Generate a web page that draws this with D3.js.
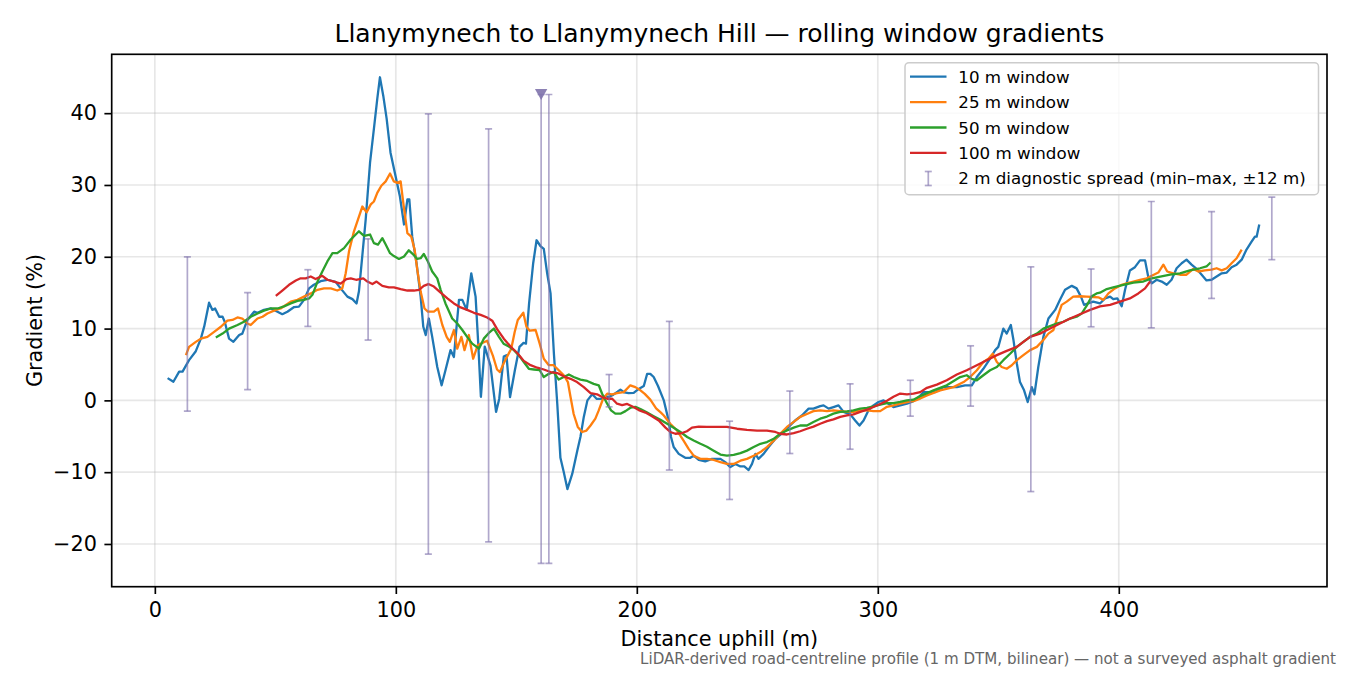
<!DOCTYPE html>
<html><head><meta charset="utf-8">
<script src="https://cdn.jsdelivr.net/npm/d3@7"></script>
<style>body{margin:0;background:#fff}svg{display:block;font-family:"DejaVu Sans",sans-serif}</style>
</head><body><svg id="chart" width="1350" height="675"></svg>
<script>
// ---------- data ----------
const titleText = "Llanymynech to Llanymynech Hill \u2014 rolling window gradients";
const xLabel = "Distance uphill (m)";
const yLabel = "Gradient (%)";
const footnote = "LiDAR-derived road-centreline profile (1 m DTM, bilinear) \u2014 not a surveyed asphalt gradient";
const xTicks = [0, 100, 200, 300, 400];
const yTicks = [-20, -10, 0, 10, 20, 30, 40];
const seriesLabels = ["10 m window", "25 m window", "50 m window", "100 m window"];
const spreadLabel = "2 m diagnostic spread (min\u2013max, \u00b112 m)";

const w10 = [[5.3,3.1],[7.7,2.6],[10.1,4.0],[11.5,4.0],[14.2,5.6],[17.0,6.85],[19.1,8.6],[20.5,10.3],[22.5,13.6],[23.9,12.6],[25.0,12.8],[26.7,11.65],[28.1,11.65],[29.0,10.95],[30.8,8.6],[32.6,8.15],[35.0,9.1],[36.3,9.3],[38.4,11.2],[41.2,12.35],[42.6,12.2],[45.3,12.6],[48.1,12.8],[50.9,12.35],[52.9,12.0],[55.0,12.35],[57.8,13.0],[59.8,13.05],[61.9,14.0],[64.0,15.6],[66.0,16.1],[68.8,16.6],[71.6,16.8],[75.0,16.5],[77.1,15.6],[79.9,14.45],[82.0,14.1],[83.7,13.5],[84.7,15.2],[86.0,19.8],[87.5,25.2],[89.3,33.1],[90.9,37.8],[92.3,42.0],[93.4,45.0],[94.8,42.4],[96.2,39.2],[97.8,34.5],[99.9,31.2],[101.7,28.4],[103.4,24.5],[104.8,28.0],[105.6,28.0],[106.8,22.8],[108.6,19.1],[110.3,14.45],[111.4,10.25],[112.4,9.1],[113.7,11.4],[115.1,8.85],[117.2,4.65],[119.0,2.1],[120.6,4.2],[122.7,7.0],[124.1,6.05],[126.2,14.0],[127.6,14.0],[129.4,12.6],[131.3,17.7],[133.1,14.45],[134.2,7.9],[135.3,0.5],[136.9,7.5],[139.3,4.8],[141.6,-1.6],[142.9,0.2],[144.8,6.1],[145.9,6.3],[147.4,0.46],[149.4,4.2],[151.3,7.45],[153.0,8.0],[154.0,7.9],[155.3,13.5],[157.0,19.1],[158.4,22.3],[160.0,21.5],[161.4,21.1],[162.8,17.7],[164.2,14.9],[165.6,6.5],[167.0,-0.5],[168.3,-8.0],[169.7,-10.0],[171.2,-12.35],[173.2,-10.25],[175.3,-7.0],[176.6,-5.1],[178.0,-2.3],[179.5,0.0],[181.5,0.85],[183.4,0.2],[185.5,0.2],[187.0,0.6],[188.4,0.46],[190.3,0.8],[192.0,1.2],[193.2,1.5],[194.8,1.1],[196.6,1.0],[198.7,1.05],[200.8,1.6],[202.9,2.0],[204.3,3.7],[205.6,3.7],[207.0,3.25],[208.8,2.0],[211.2,0.0],[213.2,-2.8],[214.2,-5.1],[215.3,-6.5],[217.4,-7.45],[220.1,-8.0],[222.2,-8.0],[223.6,-7.7],[225.7,-8.3],[228.4,-8.5],[231.2,-8.15],[234.7,-8.15],[236.7,-8.6],[238.8,-9.3],[240.9,-8.85],[243.0,-9.2],[244.6,-9.2],[246.4,-9.7],[247.8,-8.85],[249.2,-7.45],[250.5,-8.15],[252.6,-7.45],[254.7,-6.5],[257.5,-5.35],[260.2,-4.6],[263.0,-3.7],[265.7,-2.8],[268.5,-2.1],[271.3,-1.15],[273.3,-1.15],[276.1,-0.8],[277.5,-0.7],[279.6,-1.15],[281.6,-0.93],[283.7,-0.7],[285.8,-1.6],[288.6,-1.95],[290.6,-2.8],[292.4,-3.5],[294.1,-2.8],[296.1,-1.4],[298.2,-0.7],[300.3,-0.23],[302.4,0.0],[304.4,-0.46],[306.5,-0.93],[309.3,-0.7],[312.1,-0.46],[314.8,-0.1],[316.9,0.4],[319.0,1.15],[323.8,1.15],[327.3,1.85],[332.8,1.85],[336.2,2.1],[339.0,2.1],[341.1,3.25],[343.8,4.4],[346.6,5.8],[348.7,7.0],[350.0,7.45],[352.1,10.0],[353.5,9.3],[355.2,10.5],[356.3,8.4],[357.7,5.1],[359.0,2.55],[360.7,1.4],[362.2,-0.23],[363.9,1.85],[365.0,0.84],[366.6,4.65],[368.7,8.85],[370.8,11.4],[373.6,12.6],[375.6,14.0],[377.7,15.4],[380.5,15.95],[382.5,15.6],[384.3,14.45],[385.6,13.3],[387.3,13.5],[389.4,13.75],[392.2,13.5],[394.3,14.2],[396.4,14.45],[397.7,14.1],[399.4,14.2],[401.2,13.1],[402.6,15.4],[404.6,18.1],[406.7,18.55],[408.8,19.5],[410.9,19.5],[412.2,17.25],[413.7,16.3],[415.7,16.8],[417.8,16.55],[419.9,16.1],[421.9,16.8],[424.0,18.4],[426.1,19.1],[428.1,19.6],[430.2,18.9],[432.3,18.3],[434.4,17.5],[436.4,16.7],[438.5,16.8],[440.6,17.25],[442.7,17.7],[444.8,17.8],[446.8,18.55],[448.9,18.9],[451.0,19.6],[453.0,21.0],[455.1,22.1],[456.5,22.8],[457.2,22.8],[458.3,24.5]];

const w25 = [[12.9,6.3],[14.2,7.45],[17.0,8.15],[19.1,8.6],[21.8,8.85],[24.6,9.55],[27.4,10.25],[30.1,11.1],[32.2,11.2],[34.3,11.55],[36.3,11.4],[38.4,10.7],[39.8,10.5],[42.6,11.4],[44.7,11.65],[46.7,12.1],[50.2,12.6],[52.2,12.8],[56.4,13.75],[59.2,14.0],[61.9,14.45],[64.7,14.9],[67.5,15.4],[70.2,15.6],[73.0,15.6],[75.7,15.3],[77.8,15.6],[79.2,17.7],[80.6,20.8],[82.6,23.5],[84.7,25.6],[86.1,27.0],[87.9,26.2],[89.6,27.3],[90.9,27.7],[92.3,28.9],[94.0,29.9],[95.8,30.5],[97.6,31.6],[99.2,30.5],[100.6,30.3],[102.0,30.5],[103.1,27.5],[104.8,23.3],[106.4,22.8],[107.8,21.0],[108.9,18.2],[110.3,15.15],[111.9,12.8],[113.3,12.35],[115.8,12.35],[117.5,12.8],[119.3,10.5],[121.1,8.85],[122.4,8.15],[124.1,9.8],[125.5,7.2],[127.2,8.85],[128.5,7.0],[130.3,9.1],[132.1,5.8],[134.0,7.7],[135.9,8.0],[137.9,8.3],[140.3,6.2],[142.0,4.3],[143.2,3.95],[144.8,5.2],[146.5,6.3],[147.9,7.2],[149.3,9.5],[150.6,11.2],[152.9,12.2],[154.2,10.25],[155.6,9.7],[158.0,9.8],[159.7,7.9],[161.4,5.8],[163.5,4.9],[165.5,4.9],[167.6,4.2],[169.7,3.5],[171.4,2.55],[172.5,0.46],[173.8,-1.9],[175.5,-3.7],[177.3,-4.4],[179.1,-4.2],[180.8,-3.5],[182.8,-2.55],[184.2,-1.4],[186.0,0.23],[187.7,0.93],[189.8,0.84],[191.8,1.0],[194.6,1.15],[197.3,2.1],[199.4,1.85],[201.5,1.4],[203.3,0.9],[205.6,0.1],[208.0,-1.1],[210.0,-1.7],[211.2,-2.1],[213.9,-3.25],[216.7,-4.2],[219.4,-5.6],[221.5,-6.75],[223.6,-7.7],[226.4,-8.15],[229.1,-8.15],[231.9,-8.3],[234.7,-8.6],[237.4,-8.85],[240.2,-8.85],[243.0,-8.4],[245.7,-8.15],[248.5,-7.7],[251.3,-7.2],[254.0,-6.5],[256.8,-5.6],[259.5,-4.65],[262.3,-3.7],[265.1,-3.0],[267.8,-2.3],[270.6,-1.9],[273.3,-1.5],[276.1,-1.4],[278.9,-1.5],[281.6,-1.4],[284.4,-1.5],[287.2,-1.6],[289.9,-1.6],[292.7,-1.4],[295.5,-1.4],[298.2,-1.5],[301.0,-1.5],[303.8,-0.9],[306.5,-0.7],[309.3,-0.46],[312.1,-0.23],[314.8,-0.1],[317.6,0.25],[320.4,0.7],[325.9,1.4],[331.4,1.85],[335.6,2.55],[338.3,3.25],[341.1,4.2],[343.8,5.35],[345.9,5.8],[347.7,6.5],[349.4,5.35],[351.4,4.65],[353.5,4.4],[355.6,4.9],[357.7,5.6],[360.4,6.3],[363.2,7.0],[366.0,7.45],[368.7,8.4],[370.8,9.3],[372.9,9.8],[374.2,11.2],[376.3,13.3],[378.4,13.75],[381.1,14.45],[383.9,14.5],[386.7,14.45],[389.4,14.4],[391.5,14.35],[393.6,14.0],[395.7,14.9],[398.4,15.6],[401.2,16.1],[403.3,16.3],[406.1,16.55],[408.8,16.8],[411.6,17.0],[413.7,17.35],[416.4,17.8],[418.5,18.9],[420.1,17.95],[422.6,17.7],[425.4,17.5],[428.1,17.5],[430.9,18.3],[433.0,17.95],[435.7,18.1],[438.5,18.2],[440.6,18.4],[442.7,18.1],[444.8,18.4],[446.8,19.1],[448.9,19.8],[451.0,21.0]];

const w50 = [[25.3,8.75],[28.1,9.3],[30.8,10.0],[34.3,10.5],[37.0,10.95],[39.8,11.65],[42.6,12.1],[45.3,12.5],[48.1,12.8],[50.9,12.8],[53.6,13.1],[56.4,13.5],[59.2,13.85],[61.9,14.0],[64.0,14.2],[65.4,14.7],[67.5,16.55],[69.5,17.95],[71.6,19.35],[73.7,20.5],[75.7,20.5],[78.5,21.2],[81.3,22.4],[84.7,23.55],[86.8,22.9],[89.3,23.1],[90.9,21.9],[92.6,21.7],[94.4,22.6],[95.8,21.7],[97.6,20.5],[99.2,20.1],[101.3,19.7],[103.4,20.05],[105.4,20.9],[107.3,20.3],[108.9,19.7],[110.3,19.8],[111.6,20.4],[113.3,19.35],[115.1,17.95],[117.2,17.0],[118.6,15.4],[120.6,13.5],[123.4,11.4],[125.5,10.7],[127.6,9.8],[129.6,8.85],[131.7,7.9],[134.5,7.2],[136.5,8.6],[138.6,9.4],[140.7,10.0],[142.8,8.85],[144.7,7.9],[146.9,7.5],[149.0,7.0],[151.0,6.3],[153.1,5.35],[155.2,4.4],[157.3,4.3],[159.7,4.2],[161.4,3.25],[163.5,3.7],[165.5,3.95],[167.6,2.9],[169.7,3.25],[171.8,3.6],[173.8,3.25],[176.6,2.9],[179.4,2.7],[182.1,2.3],[184.2,2.1],[185.6,0.93],[187.7,-0.46],[189.3,-1.4],[191.1,-1.85],[193.2,-1.85],[195.3,-1.5],[197.5,-1.0],[199.4,-0.9],[201.5,-1.2],[204.3,-1.7],[207.0,-2.2],[209.8,-2.7],[212.6,-3.25],[215.3,-3.8],[218.1,-4.4],[220.9,-5.1],[223.6,-5.6],[226.4,-6.05],[229.1,-6.45],[231.9,-7.0],[234.7,-7.55],[237.4,-7.7],[240.2,-7.6],[243.0,-7.35],[245.7,-7.0],[248.5,-6.5],[251.3,-6.05],[254.0,-5.8],[256.8,-5.35],[259.5,-4.65],[262.3,-4.2],[265.1,-3.8],[267.8,-3.5],[270.6,-3.5],[273.3,-3.0],[276.1,-2.55],[278.9,-2.25],[281.6,-1.85],[284.4,-1.6],[287.2,-1.55],[289.9,-1.4],[292.7,-1.15],[295.5,-1.05],[298.2,-0.84],[301.0,-0.6],[303.8,-0.37],[306.5,-0.37],[309.3,-0.2],[312.1,0.0],[314.8,0.1],[317.6,0.6],[323.1,1.4],[328.6,2.1],[334.2,3.25],[336.9,3.5],[339.0,3.0],[341.1,2.8],[343.8,3.5],[346.6,4.2],[349.4,4.65],[352.1,5.6],[354.9,6.5],[357.7,7.45],[360.4,8.15],[363.2,8.85],[366.0,9.3],[368.7,10.0],[371.5,10.35],[374.2,10.7],[377.0,10.95],[379.8,11.4],[382.5,11.65],[384.6,12.1],[386.7,13.2],[388.8,14.5],[390.8,14.9],[392.2,15.0],[395.0,15.5],[397.7,15.75],[401.9,16.1],[406.1,16.4],[410.2,16.55],[413.7,17.0],[417.2,17.25],[421.3,17.5],[425.4,17.7],[429.5,18.1],[433.7,18.4],[436.4,18.65],[438.1,19.2]];

const w100 = [[50.2,14.55],[52.9,15.3],[55.7,16.1],[58.5,16.7],[60.5,17.0],[62.6,17.0],[64.7,17.25],[66.7,16.9],[69.5,17.35],[71.6,16.8],[74.3,16.55],[77.1,16.25],[79.5,16.9],[81.3,17.0],[83.5,16.8],[86.5,17.0],[88.2,16.55],[90.3,16.2],[92.0,16.55],[94.4,15.95],[97.1,15.75],[99.2,15.75],[102.0,15.5],[104.8,15.3],[107.5,15.3],[109.6,15.4],[111.6,15.95],[113.5,16.2],[115.8,15.85],[118.6,15.0],[121.4,14.2],[124.1,13.5],[126.9,12.95],[129.6,12.6],[132.4,12.2],[135.2,11.9],[137.9,11.55],[140.0,11.1],[142.1,9.9],[144.8,8.6],[147.6,7.5],[150.4,6.6],[153.1,5.5],[155.9,4.9],[158.7,4.55],[161.4,4.3],[164.2,3.95],[167.0,3.8],[169.7,3.35],[172.5,3.0],[175.2,2.55],[178.0,1.85],[180.8,1.0],[183.5,0.84],[185.6,0.46],[187.7,0.23],[189.8,0.23],[191.8,-0.46],[193.9,-0.65],[196.0,-0.5],[198.4,-0.9],[200.8,-1.35],[203.6,-1.7],[206.3,-2.2],[209.1,-2.8],[211.9,-3.8],[213.9,-4.4],[216.0,-4.65],[218.8,-4.55],[220.8,-4.3],[222.9,-3.8],[225.7,-3.65],[229.1,-3.7],[233.3,-3.7],[237.4,-3.7],[241.6,-3.95],[245.7,-4.1],[249.9,-4.2],[254.0,-4.2],[257.5,-4.4],[259.5,-4.65],[262.3,-4.75],[265.1,-4.55],[267.8,-4.3],[270.6,-3.95],[273.3,-3.65],[276.1,-3.25],[278.9,-2.9],[281.6,-2.65],[284.4,-2.3],[287.2,-2.1],[289.9,-1.95],[292.7,-1.6],[295.5,-1.3],[298.2,-0.93],[301.0,-0.5],[303.8,-0.05],[306.5,0.5],[309.3,0.95],[312.1,0.84],[314.8,0.93],[317.6,1.15],[320.4,1.75],[324.5,2.2],[328.6,2.8],[332.8,3.6],[336.9,4.2],[341.1,4.9],[345.2,5.6],[349.4,6.3],[353.5,6.9],[357.7,7.45],[360.4,8.15],[363.2,8.85],[367.3,9.3],[371.5,10.0],[375.6,10.7],[379.8,11.4],[383.9,12.0],[388.1,12.6],[392.2,13.1],[396.4,13.3],[400.5,13.75],[404.6,14.2],[408.1,14.9],[410.9,15.6],[413.0,16.55]];

// 2 m diagnostic spread: position, min, max
const spreadX   = [13.5, 38.5, 63.5, 88.5, 113.5, 138.5, 160.3, 163.5, 188.5, 213.5, 238.5, 263.5, 288.5, 313.5, 338.5, 363.5, 388.5, 413.5, 438.5, 463.5];
const spreadMin = [-1.5, 1.5, 10.3, 8.4, -21.4, -19.7, -22.7, -22.7, -0.9, -9.7, -13.8, -7.4, -6.8, -2.2, -0.8, -12.7, 10.25, 10.1, 14.2, 19.6];
const spreadMax = [20.0, 15.0, 18.2, 22.5, 39.9, 37.8, 42.6, 42.6, 3.6, 11.0, -2.9, 1.3, 2.3, 2.8, 7.6, 18.6, 18.3, 27.7, 26.3, 28.3];
const peakSpread = [[160.3, 42.6]];

// ---------- styling ----------
const colors = ["#1f77b4", "#ff7f0e", "#2ca02c", "#d62728"];
const spreadColor = "#8073ac";
const W = 1350, H = 675;
const L = 111.7, R = 1327, T = 54.3, B = 586.7;

const svg = d3.select("#chart");
const x = d3.scaleLinear().domain([-17.9, 486.4]).range([L, R]);
const y = d3.scaleLinear().domain([-25.95, 48.2]).range([B, T]);

svg.append("rect").attr("width", W).attr("height", H).attr("fill", "#fff");

// grid
const grid = svg.append("g");
grid.selectAll("line.gx").data(xTicks).join("line")
  .attr("x1", d => x(d)).attr("x2", d => x(d)).attr("y1", T).attr("y2", B)
  .attr("stroke", "#b0b0b0").attr("stroke-opacity", 0.3).attr("stroke-width", 1.67);
grid.selectAll("line.gy").data(yTicks).join("line")
  .attr("y1", d => y(d)).attr("y2", d => y(d)).attr("x1", L).attr("x2", R)
  .attr("stroke", "#b0b0b0").attr("stroke-opacity", 0.3).attr("stroke-width", 1.67);

svg.append("clipPath").attr("id", "clip").append("rect")
  .attr("x", L).attr("y", T).attr("width", R - L).attr("height", B - T);
const plot = svg.append("g").attr("clip-path", "url(#clip)");

const line = d3.line().x(d => x(d[0])).y(d => y(d[1]));
[w10, w25, w50, w100].forEach((s, i) => {
  plot.append("path").datum(s).attr("d", line)
    .attr("fill", "none").attr("stroke", colors[i]).attr("stroke-width", 2.3)
    .attr("stroke-linejoin", "round").attr("stroke-linecap", "butt");
});

// error bars
const eb = plot.append("g").attr("stroke", spreadColor).attr("stroke-opacity", 0.62).attr("stroke-width", 1.7);
const cap = 3.5;
spreadX.forEach((sx, i) => {
  const px = x(sx);
  eb.append("line").attr("x1", px).attr("x2", px).attr("y1", y(spreadMin[i])).attr("y2", y(spreadMax[i]));
  eb.append("line").attr("x1", px - cap).attr("x2", px + cap).attr("y1", y(spreadMin[i])).attr("y2", y(spreadMin[i]));
  eb.append("line").attr("x1", px - cap).attr("x2", px + cap).attr("y1", y(spreadMax[i])).attr("y2", y(spreadMax[i]));
});
// peak marker (downward triangle)
plot.selectAll("path.peak").data(peakSpread).join("path")
  .attr("d", d => { const cx = x(d[0]), cy = y(d[1]); return `M${cx-6.2},${cy-5.5}L${cx+6.2},${cy-5.5}L${cx},${cy+5.5}Z`; })
  .attr("fill", spreadColor).attr("fill-opacity", 0.9);

// axes
const fs = 20.8;
const xAxis = svg.append("g").attr("transform", `translate(0,${B})`)
  .call(d3.axisBottom(x).tickValues(xTicks).tickSize(7.3).tickPadding(8.7).tickSizeOuter(0));
const yAxis = svg.append("g").attr("transform", `translate(${L},0)`)
  .call(d3.axisLeft(y).tickValues(yTicks).tickSize(7.3).tickPadding(7.4).tickSizeOuter(0));
[xAxis, yAxis].forEach(a => {
  a.select(".domain").remove();
  a.selectAll(".tick line").attr("stroke", "#000").attr("stroke-width", 1.67);
  a.selectAll(".tick text").attr("fill", "#000").style("font-size", fs + "px").style("font-family", '"DejaVu Sans", sans-serif');
});

// frame
svg.append("rect").attr("x", L).attr("y", T).attr("width", R - L).attr("height", B - T)
  .attr("fill", "none").attr("stroke", "#000").attr("stroke-width", 1.67);

// texts
svg.append("text").attr("x", (L + R) / 2).attr("y", 42).attr("text-anchor", "middle")
  .style("font-size", "25px").attr("fill", "#000").text(titleText);
svg.append("text").attr("x", (L + R) / 2).attr("y", 646).attr("text-anchor", "middle")
  .style("font-size", fs + "px").attr("fill", "#000").text(xLabel);
svg.append("text").attr("transform", `translate(42,${(T + B) / 2}) rotate(-90)`).attr("text-anchor", "middle")
  .style("font-size", fs + "px").attr("fill", "#000").text(yLabel);
svg.append("text").attr("x", 1336).attr("y", 664).attr("text-anchor", "end")
  .style("font-size", "15.1px").attr("fill", "#666").text(footnote);

// legend
const lg = svg.append("g");
lg.append("rect").attr("x", 905).attr("y", 62.7).attr("width", 413.5).attr("height", 132)
  .attr("rx", 4).attr("fill", "#fff").attr("fill-opacity", 0.8).attr("stroke", "#cccccc").attr("stroke-width", 1.5);
const rowY = [76.7, 102.2, 127.5, 152.8, 178.2];
seriesLabels.forEach((lab, i) => {
  lg.append("line").attr("x1", 910).attr("x2", 946.5).attr("y1", rowY[i]).attr("y2", rowY[i])
    .attr("stroke", colors[i]).attr("stroke-width", 2.3);
  lg.append("text").attr("x", 958.3).attr("y", rowY[i]).attr("dy", "0.36em")
    .style("font-size", "16.7px").attr("fill", "#000").text(lab);
});
{
  const g = lg.append("g").attr("stroke", spreadColor).attr("stroke-opacity", 0.62).attr("stroke-width", 1.7);
  const cx = 928.3, y1 = 171.5, y2 = 185.5;
  g.append("line").attr("x1", cx).attr("x2", cx).attr("y1", y1).attr("y2", y2);
  g.append("line").attr("x1", cx - cap).attr("x2", cx + cap).attr("y1", y1).attr("y2", y1);
  g.append("line").attr("x1", cx - cap).attr("x2", cx + cap).attr("y1", y2).attr("y2", y2);
  lg.append("text").attr("x", 958.3).attr("y", rowY[4]).attr("dy", "0.36em")
    .style("font-size", "16.7px").attr("fill", "#000").text(spreadLabel);
}
</script></body></html>
